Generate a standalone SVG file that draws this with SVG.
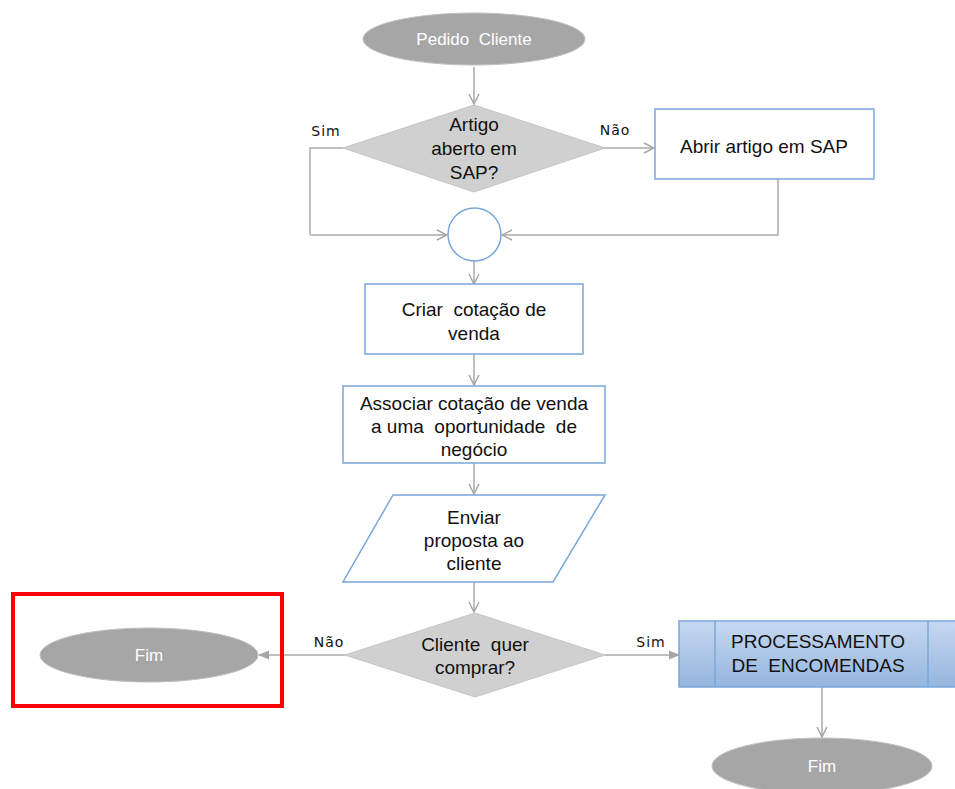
<svg xmlns="http://www.w3.org/2000/svg" width="955" height="789" viewBox="0 0 955 789">
<defs>
<style>
.t{font-family:"Liberation Sans",Arial,sans-serif;font-size:19px;fill:#111;text-anchor:middle;white-space:pre}
.tw{font-family:"Liberation Sans",Arial,sans-serif;font-size:17px;fill:#fff;text-anchor:middle;white-space:pre}
.lbl{font-family:"DejaVu Sans",Verdana,sans-serif;font-size:14px;fill:#111;text-anchor:middle;letter-spacing:1px}
.term{fill:#a6a6a6;stroke:#bfbfbf;stroke-width:1}
.dec{fill:#d0d0d0;stroke:#c4c4c4;stroke-width:1}
.box{fill:#fff;stroke:#7aa7db;stroke-width:1.5}
.con{fill:none;stroke:#bfbfbf;stroke-width:2}
.open{marker-end:url(#ao)}
.fill{marker-end:url(#af)}
</style>
<marker id="ao" viewBox="0 0 12 12" refX="11" refY="6" markerWidth="12" markerHeight="12" markerUnits="userSpaceOnUse" orient="auto">
<path d="M1,1 L11,6 L1,11" fill="none" stroke="#a6a6a6" stroke-width="1.5"/>
</marker>
<marker id="af" viewBox="0 0 12 12" refX="11" refY="6" markerWidth="11" markerHeight="11" markerUnits="userSpaceOnUse" orient="auto">
<path d="M0,1 L12,6 L0,11 Z" fill="#a6a6a6"/>
</marker>
<linearGradient id="pg" x1="0" y1="0" x2="0" y2="1">
<stop offset="0" stop-color="#c6d9f1"/>
<stop offset="1" stop-color="#95b5de"/>
</linearGradient>
</defs>

<g id="connectors">
<path class="con open" d="M474,67 L474,104"/>
<path class="con" d="M343,148 L310,148 L310,235"/>
<path class="con open" d="M310,235 L447,235"/>
<path class="con open" d="M605,148 L654,148"/>
<path class="con" d="M778,179 L778,235 L600,235"/>
<path class="con open" d="M600,235 L502,235"/>
<path class="con open" d="M474,261 L474,284"/>
<path class="con open" d="M474,354 L474,385"/>
<path class="con open" d="M474,463 L474,494"/>
<path class="con open" d="M474,582 L474,612"/>
<path class="con fill" d="M345,655 L259,655"/>
<path class="con fill" d="M605,655 L679,655"/>
<path class="con open" d="M822,687 L822,737"/>
<text class="lbl" x="326" y="136">Sim</text>
<text class="lbl" x="615" y="135">Não</text>
<text class="lbl" x="329" y="647">Não</text>
<text class="lbl" x="651" y="647">Sim</text>
</g>

<g id="start">
<ellipse class="term" cx="474" cy="39" rx="111" ry="26"/>
<text class="tw" x="474" y="45">Pedido  Cliente</text>
</g>

<g id="dec1">
<polygon class="dec" points="474,105 605,148 474,192 343,148"/>
<text class="t" x="474" y="131">Artigo</text>
<text class="t" x="474" y="155">aberto em</text>
<text class="t" x="474" y="179">SAP?</text>
</g>

<g id="abrir">
<rect class="box" x="655" y="109" width="219" height="70"/>
<text class="t" x="764" y="153">Abrir artigo em SAP</text>
</g>

<g id="merge">
<circle cx="474.5" cy="234.5" r="26.5" fill="#fff" stroke="#7aa7db" stroke-width="1.5"/>
</g>

<g id="criar">
<rect class="box" x="365" y="284" width="218" height="70"/>
<text class="t" x="474" y="316">Criar  cotação de</text>
<text class="t" x="474" y="340">venda</text>
</g>

<g id="associar">
<rect class="box" x="343" y="386" width="262" height="77"/>
<text class="t" x="474" y="410">Associar cotação de venda</text>
<text class="t" x="474" y="433">a uma  oportunidade  de</text>
<text class="t" x="474" y="456">negócio</text>
</g>

<g id="enviar">
<polygon class="box" points="393,495 605,495 553,582 343,582"/>
<text class="t" x="474" y="524">Enviar</text>
<text class="t" x="474" y="547">proposta ao</text>
<text class="t" x="474" y="570">cliente</text>
</g>

<g id="dec2">
<polygon class="dec" points="475,613 605,655 475,697 345,655"/>
<text class="t" x="475" y="651">Cliente  quer</text>
<text class="t" x="475" y="674">comprar?</text>
</g>

<g id="fim1">
<ellipse class="term" cx="149" cy="655" rx="109" ry="27"/>
<text class="tw" x="149" y="661">Fim</text>
</g>

<g id="highlight">
<rect x="13" y="594" width="269" height="112" fill="none" stroke="#ff0000" stroke-width="4"/>
</g>

<g id="processo">
<rect x="679" y="621" width="290" height="66" fill="url(#pg)" stroke="#7aa7db" stroke-width="1.5"/>
<line x1="715" y1="621" x2="715" y2="687" stroke="#7aa7db" stroke-width="1.5"/>
<line x1="928" y1="621" x2="928" y2="687" stroke="#7aa7db" stroke-width="1.5"/>
<text class="t" x="818" y="648">PROCESSAMENTO</text>
<text class="t" x="818" y="672">DE  ENCOMENDAS</text>
</g>

<g id="fim2">
<ellipse class="term" cx="822" cy="766" rx="110" ry="28"/>
<text class="tw" x="822" y="772">Fim</text>
</g>
</svg>
